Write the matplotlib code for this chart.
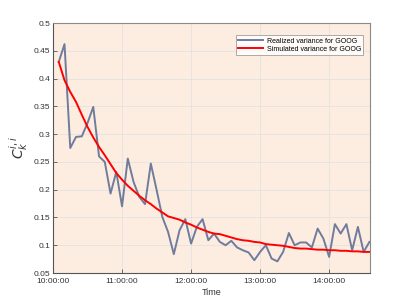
import matplotlib

matplotlib.use("Agg")
import matplotlib.dates as mdates  # noqa: E402
import matplotlib.pyplot as plt  # noqa: E402
import numpy as np  # noqa: E402
import pandas as pd  # noqa: E402

# minutes after 10:00:00, one sample every 5 minutes
minutes = list(range(5, 280, 5))

realized = [
    0.430, 0.462, 0.275, 0.295, 0.296, 0.320, 0.349, 0.260, 0.250, 0.193,
    0.232, 0.170, 0.256, 0.214, 0.187, 0.174, 0.247, 0.200, 0.151, 0.124,
    0.084, 0.127, 0.147, 0.103, 0.133, 0.147, 0.109, 0.121, 0.106, 0.100,
    0.108, 0.096, 0.091, 0.087, 0.073, 0.088, 0.100, 0.076, 0.071, 0.088,
    0.122, 0.100, 0.105, 0.105, 0.096, 0.130, 0.112, 0.079, 0.138, 0.121,
    0.138, 0.091, 0.133, 0.088, 0.106,
]

simulated = [
    0.430, 0.397, 0.376, 0.358, 0.335, 0.313, 0.294, 0.277, 0.262, 0.246,
    0.230, 0.218, 0.207, 0.198, 0.189, 0.181, 0.174, 0.166, 0.159, 0.152,
    0.149, 0.146, 0.141, 0.137, 0.132, 0.128, 0.124, 0.121, 0.120, 0.117,
    0.114, 0.111, 0.109, 0.108, 0.106, 0.105, 0.102, 0.101, 0.100, 0.099,
    0.097, 0.095, 0.094, 0.094, 0.093, 0.092, 0.092, 0.091, 0.091, 0.090,
    0.090, 0.089, 0.089, 0.088, 0.088,
]

y_ticks = [0.05, 0.1, 0.15, 0.2, 0.25, 0.3, 0.35, 0.4, 0.45, 0.5]
y_tick_labels = ["0.05", "0.1", "0.15", "0.2", "0.25", "0.3", "0.35", "0.4", "0.45", "0.5"]

start = pd.Timestamp("2020-01-02 10:00:00")
times = [start + pd.Timedelta(minutes=m) for m in minutes]

plt.rcParams["font.family"] = ["Liberation Sans", "DejaVu Sans"]

fig = plt.figure(figsize=(4.09, 3.07), dpi=100)
ax = fig.add_axes([0.1296, 0.1107, 0.775, 0.8143])
ax.set_facecolor("#fdede1")

ax.plot(times, realized, color="#6f7c9c", lw=1.4, label="Realized variance for GOOG")
ax.plot(times, simulated, color="#ff0000", lw=1.4, label="Simulated variance for GOOG")

ax.set_xlim(start, start + pd.Timedelta(minutes=275.5))
ax.set_ylim(0.05, 0.5)
ax.set_yticks(y_ticks)
ax.set_yticklabels(y_tick_labels)
ax.xaxis.set_major_locator(mdates.HourLocator())
ax.xaxis.set_major_formatter(mdates.DateFormatter("%H:%M:%S"))

ax.grid(True, color="#e2e2e2", lw=0.6)
ax.tick_params(direction="in", length=3, width=0.6, labelsize=6, colors="#555555",
               labelcolor="#333333", pad=2)
ax.tick_params(axis="x", pad=3.5)
for side in ["top", "right"]:
    ax.spines[side].set_color("#8a8a8a")
    ax.spines[side].set_linewidth(0.8)
for side in ["left", "bottom"]:
    ax.spines[side].set_color("#555555")
    ax.spines[side].set_linewidth(0.8)

ax.set_xlabel("Time", fontsize=6.5, color="#333333", labelpad=2)
ax.set_ylabel(r"$C_k^{i,i}$", fontsize=10, color="#333333", labelpad=2)

leg = ax.legend(loc="upper right", fontsize=5, frameon=True, fancybox=False,
                handlelength=3.6, handletextpad=0.5, borderpad=0.35,
                labelspacing=0.15, bbox_to_anchor=(0.99, 0.965))
leg.get_frame().set_edgecolor("#888888")
leg.get_frame().set_linewidth(0.6)
leg.get_frame().set_facecolor("white")

fig.savefig("out.png", dpi=100)
plt.close(fig)
